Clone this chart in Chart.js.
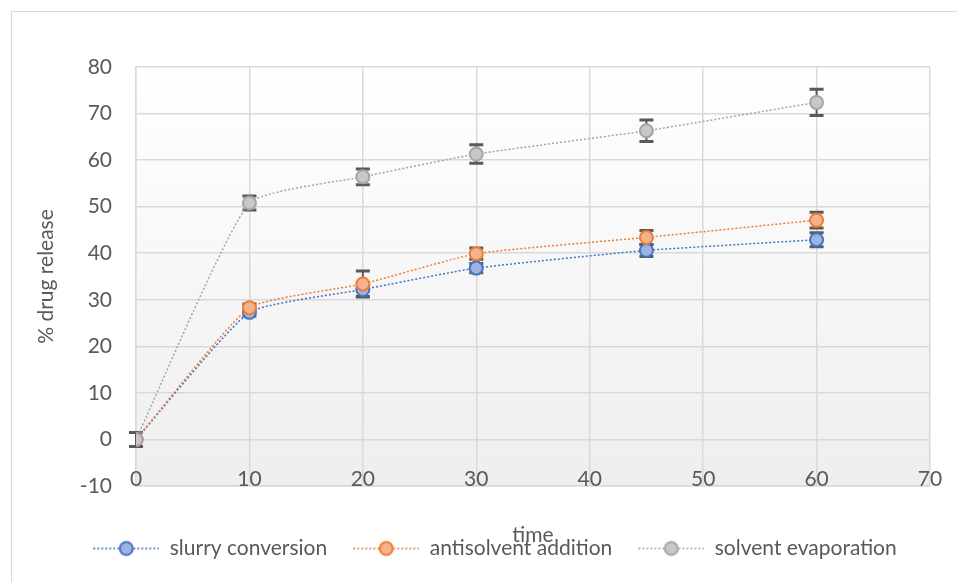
<!DOCTYPE html>
<html>
<head>
<meta charset="utf-8">
<script src="https://cdn.jsdelivr.net/npm/chart.js@4.4.1/dist/chart.umd.min.js"></script>
<style>
  html, body { margin: 0; padding: 0; background: #fff; overflow: hidden; }
  #frame { position: absolute; left: 11px; top: 11px; width: 1000px; height: 1000px; border: 1px solid #d9d9d9; }
  #wrap { position: absolute; left: 0; top: 0; width: 957px; height: 582px; }
</style>
</head>
<body>
<div id="frame"></div>
<div id="wrap"><canvas id="chart"></canvas></div>
<script>
// time points (x) and the three release series
var times = [0, 10, 20, 30, 45, 60];
var slurry = [0, 27.3, 32.2, 36.8, 40.6, 42.9];
var antisolvent = [0, 28.3, 33.4, 39.9, 43.4, 47.1];
var evaporation = [0, 50.8, 56.4, 61.3, 66.3, 72.4];
// error bar half-heights
var slurryErr = [1.5, 0.8, 1.5, 1.0, 1.3, 1.5];
var antisolventErr = [1.5, 0.8, 2.8, 1.2, 1.5, 1.7];
var evaporationErr = [1.5, 1.5, 1.7, 2.0, 2.3, 2.8];
var seriesNames = ["slurry conversion", "antisolvent addition", "solvent evaporation"];
var xTicks = [0, 10, 20, 30, 40, 50, 60, 70];
var yTicks = [-10, 0, 10, 20, 30, 40, 50, 60, 70, 80];

var textColor = "#595959";
var fontFamily = "Lato, 'Open Sans', sans-serif";

function pts(ys) {
  return times.map(function (t, i) { return { x: t, y: ys[i] }; });
}

// legend sample: dotted line with a marker in the middle
function legendIcon(line, fill, border) {
  var c = document.createElement("canvas");
  c.width = 66; c.height = 18;
  var ctx = c.getContext("2d");
  ctx.strokeStyle = line;
  ctx.lineWidth = 1.5;
  ctx.setLineDash([2, 2]);
  ctx.beginPath(); ctx.moveTo(0, 9); ctx.lineTo(66, 9); ctx.stroke();
  ctx.setLineDash([]);
  ctx.fillStyle = fill;
  ctx.strokeStyle = border;
  ctx.lineWidth = 2;
  ctx.beginPath(); ctx.arc(33, 9, 6.5, 0, Math.PI * 2); ctx.fill(); ctx.stroke();
  return c;
}

var styles = [
  { line: "#4472c4", fill: "#9db3e0", border: "#4472c4", err: slurryErr, data: slurry },
  { line: "#ed7d31", fill: "#f5b28e", border: "#ed7d31", err: antisolventErr, data: antisolvent },
  { line: "#a5a5a5", fill: "#c8c8c8", border: "#a5a5a5", err: evaporationErr, data: evaporation }
];

var plotBackground = {
  id: "plotBackground",
  beforeDraw: function (chart) {
    var a = chart.chartArea, ctx = chart.ctx;
    var g = ctx.createLinearGradient(0, a.top, 0, a.bottom);
    g.addColorStop(0, "#ffffff");
    g.addColorStop(1, "#eeeeee");
    ctx.save();
    ctx.fillStyle = g;
    ctx.fillRect(a.left, a.top, a.right - a.left, a.bottom - a.top);
    ctx.restore();
  }
};

// x labels sit just under the 0 line, inside the plot (axis crosses at y = 0)
var xLabels = {
  id: "xLabels",
  beforeDatasetsDraw: function (chart) {
    var ctx = chart.ctx, xs = chart.scales.x;
    ctx.save();
    ctx.fillStyle = textColor;
    ctx.font = "21px " + fontFamily;
    ctx.textAlign = "center";
    ctx.textBaseline = "middle";
    xTicks.forEach(function (v) {
      ctx.fillText(String(v), xs.getPixelForValue(v), chart.chartArea.bottom - 7);
    });
    ctx.restore();
  }
};

var errorBars = {
  id: "errorBars",
  beforeDatasetsDraw: function (chart) {
    var ctx = chart.ctx, xs = chart.scales.x, ys = chart.scales.y;
    ctx.save();
    ctx.strokeStyle = "#595959";
    chart.data.datasets.forEach(function (ds) {
      ds.data.forEach(function (p, i) {
        var e = ds.errors[i];
        var px = xs.getPixelForValue(p.x);
        var top = ys.getPixelForValue(p.y + e);
        var bot = ys.getPixelForValue(p.y - e);
        ctx.lineWidth = 2;
        ctx.beginPath(); ctx.moveTo(px, top); ctx.lineTo(px, bot); ctx.stroke();
        ctx.lineWidth = 3;
        ctx.beginPath();
        ctx.moveTo(px - 7, top); ctx.lineTo(px + 7, top);
        ctx.moveTo(px - 7, bot); ctx.lineTo(px + 7, bot);
        ctx.stroke();
      });
    });
    ctx.restore();
  }
};

var datasets = styles.map(function (s, i) {
  return {
    label: seriesNames[i],
    data: pts(s.data),
    errors: s.err,
    borderColor: s.line,
    borderWidth: 1.5,
    borderDash: [2, 2],
    backgroundColor: s.fill,
    pointBackgroundColor: s.fill,
    pointBorderColor: s.border,
    pointBorderWidth: 2,
    pointRadius: 6.5,
    tension: 0.15,
    order: 2 - i,
    icon: legendIcon(s.line, s.fill, s.border)
  };
});

new Chart(document.getElementById("chart"), {
  type: "line",
  data: { datasets: datasets },
  plugins: [plotBackground, xLabels, errorBars],
  options: {
    responsive: true,
    maintainAspectRatio: false,
    animation: false,
    events: [],
    layout: { padding: { left: 60, right: 27, top: 67, bottom: 13 } },
    plugins: {
      tooltip: { enabled: false },
      legend: {
        position: "bottom",
        labels: {
          usePointStyle: true,
          pointStyleWidth: 66,
          padding: 26,
          color: textColor,
          font: { family: fontFamily, size: 21 },
          generateLabels: function (chart) {
            return chart.data.datasets.map(function (ds, i) {
              return {
                text: ds.label,
                pointStyle: ds.icon,
                fillStyle: ds.backgroundColor,
                strokeStyle: ds.borderColor,
                lineWidth: 0,
                fontColor: textColor,
                datasetIndex: i
              };
            });
          }
        }
      }
    },
    scales: {
      x: {
        type: "linear",
        min: 0,
        max: 70,
        afterBuildTicks: function (axis) { axis.ticks = xTicks.map(function (v) { return { value: v }; }); },
        afterFit: function (axis) { axis.height = 26; },
        ticks: { display: false },
        grid: { color: "#d9d9d9", lineWidth: 1.5, drawTicks: false },
        border: { color: "#d9d9d9", width: 1.5 },
        title: {
          display: true,
          text: "time",
          color: textColor,
          font: { family: fontFamily, size: 21 },
          padding: { top: 0, bottom: -36 }
        }
      },
      y: {
        min: -10,
        max: 80,
        afterBuildTicks: function (axis) { axis.ticks = yTicks.map(function (v) { return { value: v }; }); },
        afterFit: function (axis) { axis.width = 76; },
        ticks: { color: textColor, padding: 24, font: { family: fontFamily, size: 21 } },
        grid: { color: "#d9d9d9", lineWidth: 1.5, drawTicks: false },
        border: { color: "#d9d9d9", width: 1.5 },
        title: {
          display: true,
          text: "% drug release",
          color: textColor,
          font: { family: fontFamily, size: 21 },
          padding: { top: -26, bottom: 4 }
        }
      }
    }
  }
});
</script>
</body>
</html>
